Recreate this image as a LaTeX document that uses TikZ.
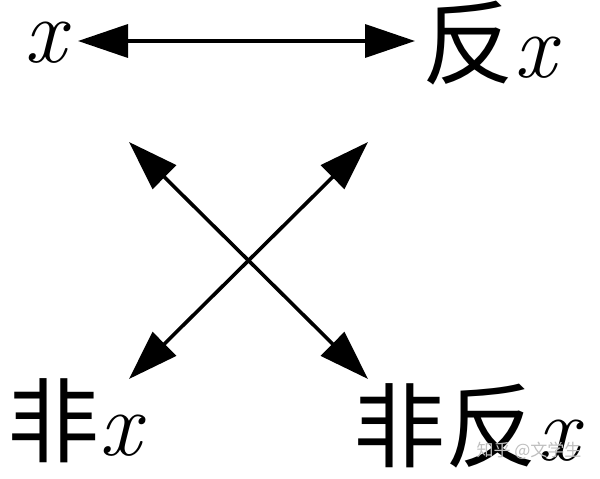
\documentclass[tikz,border=0pt]{standalone}
\usepackage{fontspec}
\newfontfamily\cjk{Noto Sans CJK SC}
\newcommand\vx{\textit{x}}
\usetikzlibrary{arrows.meta}
\tikzset{
  lbl/.style={inner sep=0pt, anchor=base west, text height=58pt, text depth=8pt, font=\fontsize{92}{92}\selectfont},
  dbl/.style={line width=3.6pt, {Triangle[length=50pt,width=33pt]}-{Triangle[length=50pt,width=33pt]}},
  wm/.style={inner sep=0pt, text=black!25, font=\cjk\fontsize{17}{17}\selectfont}
}
\begin{document}
\begin{tikzpicture}[x=1pt,y=-1pt]
\useasboundingbox[fill=white] (0,0) rectangle (600,479);
\node[lbl] (x) at (24,62) {\vx};
\node[lbl] (fx) at (422,77) {{\cjk 反}\vx};
\node[lbl] (nx) at (7,455) {{\cjk 非}\vx};
\node[lbl] (nfx) at (353,460) {{\cjk 非反}\vx};
\coordinate (tl) at (78,41);
\coordinate (tr) at (415,41);
\coordinate (ul) at (129,142);
\coordinate (ur) at (368,142);
\coordinate (ll) at (129,379);
\coordinate (lr) at (368,379);
\draw[dbl] (tl) -- (tr);
\draw[dbl] (ul) -- (lr);
\draw[dbl] (ur) -- (ll);
\node[wm] (wm) at (529,451) {知乎 @文学生};
\end{tikzpicture}
\end{document}
